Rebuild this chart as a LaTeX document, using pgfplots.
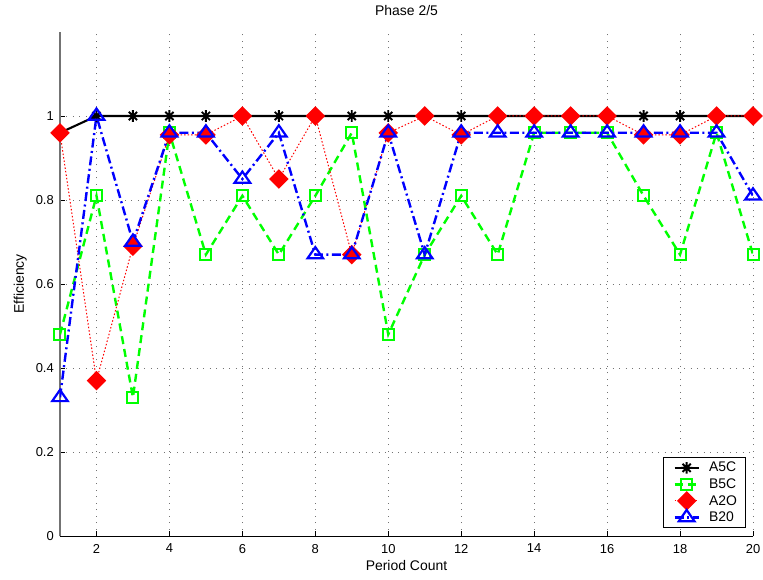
\documentclass[border=0pt]{standalone}
\usepackage{pgfplots}
\pgfplotsset{compat=1.18}
\usepackage{fontspec}
\setmainfont{Liberation Sans}
\definecolor{mgreen}{rgb}{0,1,0}
\definecolor{mred}{rgb}{1,0,0}
\definecolor{mblue}{rgb}{0,0,1}
\pgfdeclareplotmark{star8}{%
  \pgfpathmoveto{\pgfqpoint{-\pgfplotmarksize}{0pt}}\pgfpathlineto{\pgfqpoint{\pgfplotmarksize}{0pt}}%
  \pgfpathmoveto{\pgfqpoint{0pt}{-\pgfplotmarksize}}\pgfpathlineto{\pgfqpoint{0pt}{\pgfplotmarksize}}%
  \pgfpathmoveto{\pgfqpoint{-.707\pgfplotmarksize}{-.707\pgfplotmarksize}}\pgfpathlineto{\pgfqpoint{.707\pgfplotmarksize}{.707\pgfplotmarksize}}%
  \pgfpathmoveto{\pgfqpoint{-.707\pgfplotmarksize}{.707\pgfplotmarksize}}\pgfpathlineto{\pgfqpoint{.707\pgfplotmarksize}{-.707\pgfplotmarksize}}%
  \pgfusepathqstroke}
\begin{document}
\begin{tikzpicture}
\path[use as bounding box] (-60bp,-44bp) rectangle (703bp,536bp);
\begin{axis}[
  at={(0,0)}, anchor=south west,
  scale only axis, width=693bp, height=504bp,
  xmin=1, xmax=20, ymin=0, ymax=1.2,
  xtick={2,4,...,20}, ytick={0,0.2,0.4,0.6,0.8,1},
  axis x line=bottom, axis y line=left,
  x axis line style={black, line width=1pt, -},
  y axis line style={black!55, line width=1.6pt, -},
  /pgf/number format/assume math mode=true,
  tick label style={font=\fontsize{13}{15}\selectfont},
  xticklabel style={yshift=-4.5bp},
  yticklabel style={xshift=-2.7bp},
  title={Phase 2/5},
  title style={font=\fontsize{14}{16}\selectfont, at={(axis description cs:0.5,1.0218)}, anchor=base},
  xlabel={Period Count}, ylabel={Efficiency},
  xlabel style={font=\fontsize{14}{16}\selectfont, at={(axis description cs:0.5,-0.0675)}, anchor=base},
  ylabel style={font=\fontsize{14}{16}\selectfont, at={(axis description cs:-0.052,0.5)}, anchor=base},
  grid=major, major grid style={black!55, dash pattern=on 1bp off 5.5bp, line width=0.7pt},
  tick align=inside, major tick length=5bp,
  tick style={black, line width=0.8pt},
  legend style={at={(axis description cs:0.9899,0.0159)}, anchor=south east,
    font=\fontsize{14}{15}\selectfont, draw=black, line width=0.9pt,
    inner xsep=7bp, inner ysep=3bp, row sep=2.3bp, column sep=9bp,
    nodes={inner sep=1.5bp}},
  legend cell align=left,
  legend image code/.code={
    \path[draw=none, fill=none] (-4bp,-4bp) rectangle (24bp,4bp);
    \draw[overlay, mark repeat=2, mark phase=2, #1] plot coordinates {(0bp,0bp)(12bp,0bp)(24bp,0bp)};
  },
]
\addplot[black, line width=2.1bp, mark=star8, mark size=5.8bp, mark options={solid, line width=1.9bp}] coordinates {
(1,0.96)(2,1)(3,1)(4,1)(5,1)(6,1)(7,1)(8,1)(9,1)(10,1)(11,1)(12,1)(13,1)(14,1)(15,1)(16,1)(17,1)(18,1)(19,1)(20,1)};
\addlegendentry{A5C}
\addplot[mgreen, line width=2.4bp, dash pattern=on 8bp off 5bp, mark=square, mark size=5.5bp, mark options={solid, line width=2bp}] coordinates {
(1,0.48)(2,0.81)(3,0.33)(4,0.96)(5,0.67)(6,0.81)(7,0.67)(8,0.81)(9,0.96)(10,0.48)(11,0.67)(12,0.81)(13,0.67)(14,0.96)(15,0.96)(16,0.96)(17,0.81)(18,0.67)(19,0.96)(20,0.67)};
\addlegendentry{B5C}
\addplot[mred, line width=1bp, dash pattern=on 1.5bp off 2bp, mark=square*, mark size=6.3bp, mark options={solid, rotate=45, line width=1.2bp, fill=mred}] coordinates {
(1,0.96)(2,0.37)(3,0.69)(4,0.955)(5,0.955)(6,1)(7,0.85)(8,1)(9,0.67)(10,0.96)(11,1)(12,0.955)(13,1)(14,1)(15,1)(16,1)(17,0.955)(18,0.955)(19,1)(20,1)};
\addlegendentry{A2O}
\addplot[mblue, line width=2.4bp, dash pattern=on 9bp off 3.5bp on 2bp off 3.5bp, mark=triangle, mark size=7.5bp, mark options={solid, xscale=1.2, line width=2.2bp}] coordinates {
(1,0.33)(2,1)(3,0.70)(4,0.96)(5,0.96)(6,0.85)(7,0.96)(8,0.67)(9,0.67)(10,0.96)(11,0.67)(12,0.96)(13,0.96)(14,0.96)(15,0.96)(16,0.96)(17,0.96)(18,0.96)(19,0.96)(20,0.81)};
\addlegendentry{B20}
\end{axis}
\end{tikzpicture}
\end{document}
